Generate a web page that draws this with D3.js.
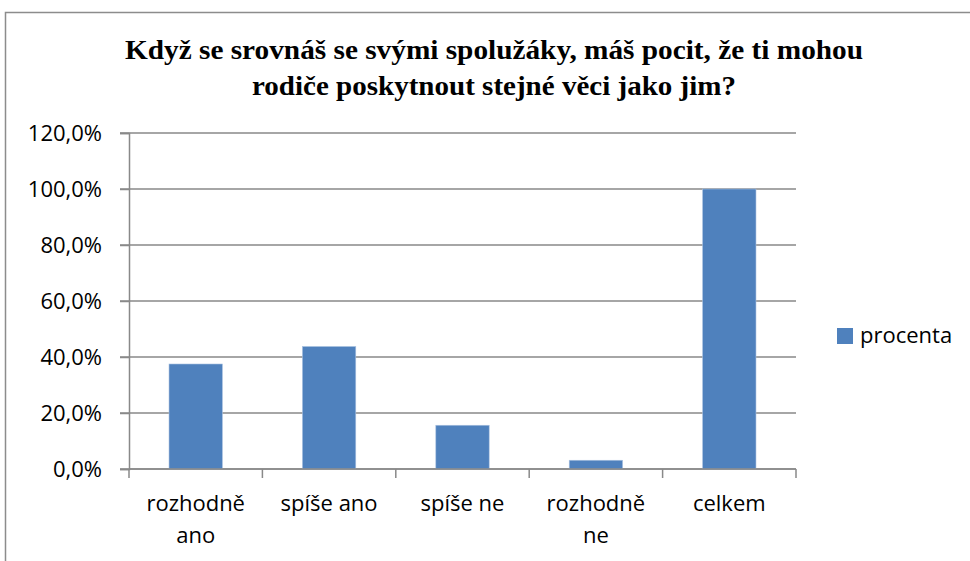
<!DOCTYPE html>
<html>
<head>
<meta charset="utf-8">
<script src="https://cdn.jsdelivr.net/npm/d3@7"></script>
<style>
  body { margin: 0; background: #fff; }
  text { font-family: "Open Sans", sans-serif; fill: #000; }
</style>
</head>
<body>
<script>
// chart values
var categories = ['rozhodně ano', 'spíše ano', 'spíše ne', 'rozhodně ne', 'celkem']
var categoryLines = [['rozhodně', 'ano'], ['spíše ano'], ['spíše ne'], ['rozhodně', 'ne'], ['celkem']]
var procenta = [37.5, 43.75, 15.625, 3.125, 100]
var yTicks = [0, 20, 40, 60, 80, 100, 120]
var titleLines = ['Když se srovnáš se svými spolužáky, máš pocit, že ti mohou',
                  'rodiče poskytnout stejné věci jako jim?']
var seriesName = 'procenta'

var settings = {
  width: 970,
  height: 561,
  left: 129,
  right: 796,
  top: 133,
  bottom: 469,
  barColor: '#4f81bd',
  gridColor: '#898989',
  fontSize: '22px'
}

var svg = d3.select('body').append('svg')
    .attr('width', settings.width).attr('height', settings.height)

// outer chart frame
svg.append('rect')
    .attr('x', 5.5).attr('y', 12.5)
    .attr('width', 990).attr('height', 600)
    .attr('fill', 'none')
    .attr('stroke', '#8c8c8c').attr('stroke-width', 1.5)

// title
var titleWidths = [738, 484]
svg.selectAll('.title').data(titleLines).enter().append('text')
    .attr('class', 'title')
    .attr('x', 494)
    .attr('y', function(d, i) { return 59 + i * 36 })
    .attr('text-anchor', 'middle')
    .style('font-family', '"Liberation Serif", "Times New Roman", serif')
    .style('font-weight', 'bold')
    .style('font-size', '28px')
    .attr('textLength', function(d, i) { return titleWidths[i] })
    .attr('lengthAdjust', 'spacingAndGlyphs')
    .text(function(d) { return d })

var x = d3.scaleBand()
    .domain(categories)
    .range([settings.left, settings.right])
    .paddingInner(0.6).paddingOuter(0.3)

// scale used for the category ticks (no padding)
var xTick = d3.scaleBand().domain(categories).range([settings.left, settings.right])

var y = d3.scaleLinear().domain([0, 120]).range([settings.bottom, settings.top])

// gridlines
svg.selectAll('.grid').data(yTicks).enter().append('line')
    .attr('class', 'grid')
    .attr('x1', settings.left - 9).attr('x2', settings.right)
    .attr('y1', function(d) { return y(d) }).attr('y2', function(d) { return y(d) })
    .attr('stroke', settings.gridColor).attr('stroke-width', 1.5)

// y axis
var yAxis = d3.axisLeft(y)
    .tickValues(yTicks)
    .tickSize(9)
    .tickPadding(18)
    .tickFormat(function(d) { return d.toFixed(1).replace('.', ',') + '%' })

var gy = svg.append('g')
    .attr('transform', 'translate(' + settings.left + ',0)')
    .call(yAxis)
gy.select('.domain').attr('stroke', settings.gridColor).attr('stroke-width', 1.5)
gy.selectAll('.tick line').attr('stroke', settings.gridColor).attr('stroke-width', 1.5)
gy.selectAll('.tick text')
    .style('font-family', '"Open Sans", sans-serif')
    .style('font-size', settings.fontSize)
    .attr('fill', '#000')

// bars
svg.selectAll('.bar').data(procenta).enter().append('rect')
    .attr('class', 'bar')
    .attr('x', function(d, i) { return x(categories[i]) })
    .attr('width', x.bandwidth())
    .attr('y', function(d) { return y(d) })
    .attr('height', function(d) { return settings.bottom - y(d) })
    .attr('fill', settings.barColor)
    .attr('stroke', '#a9c1e0').attr('stroke-width', 0.6)

// x axis line and ticks
svg.append('line')
    .attr('x1', settings.left).attr('x2', settings.right)
    .attr('y1', settings.bottom).attr('y2', settings.bottom)
    .attr('stroke', settings.gridColor).attr('stroke-width', 1.5)

var xTicks = categories.map(function(c) { return xTick(c) }).concat([settings.right])
svg.selectAll('.xtick').data(xTicks).enter().append('line')
    .attr('class', 'xtick')
    .attr('x1', function(d) { return d }).attr('x2', function(d) { return d })
    .attr('y1', settings.bottom).attr('y2', settings.bottom + 9)
    .attr('stroke', settings.gridColor).attr('stroke-width', 1.5)

// category labels
var xl = svg.selectAll('.x-label').data(categories).enter().append('text')
    .attr('class', 'x-label')
    .attr('text-anchor', 'middle')
    .style('font-size', settings.fontSize)
xl.each(function(c, i) {
  var t = d3.select(this)
  categoryLines[i].forEach(function(line, j) {
    t.append('tspan')
        .attr('x', xTick(c) + xTick.bandwidth() / 2)
        .attr('y', 511 + j * 32)
        .text(line)
  })
})

// legend
svg.append('rect')
    .attr('x', 837).attr('y', 328)
    .attr('width', 16).attr('height', 16)
    .attr('fill', settings.barColor)
svg.append('text')
    .attr('x', 860).attr('y', 343)
    .style('font-size', settings.fontSize)
    .text(seriesName)
</script>
</body>
</html>
